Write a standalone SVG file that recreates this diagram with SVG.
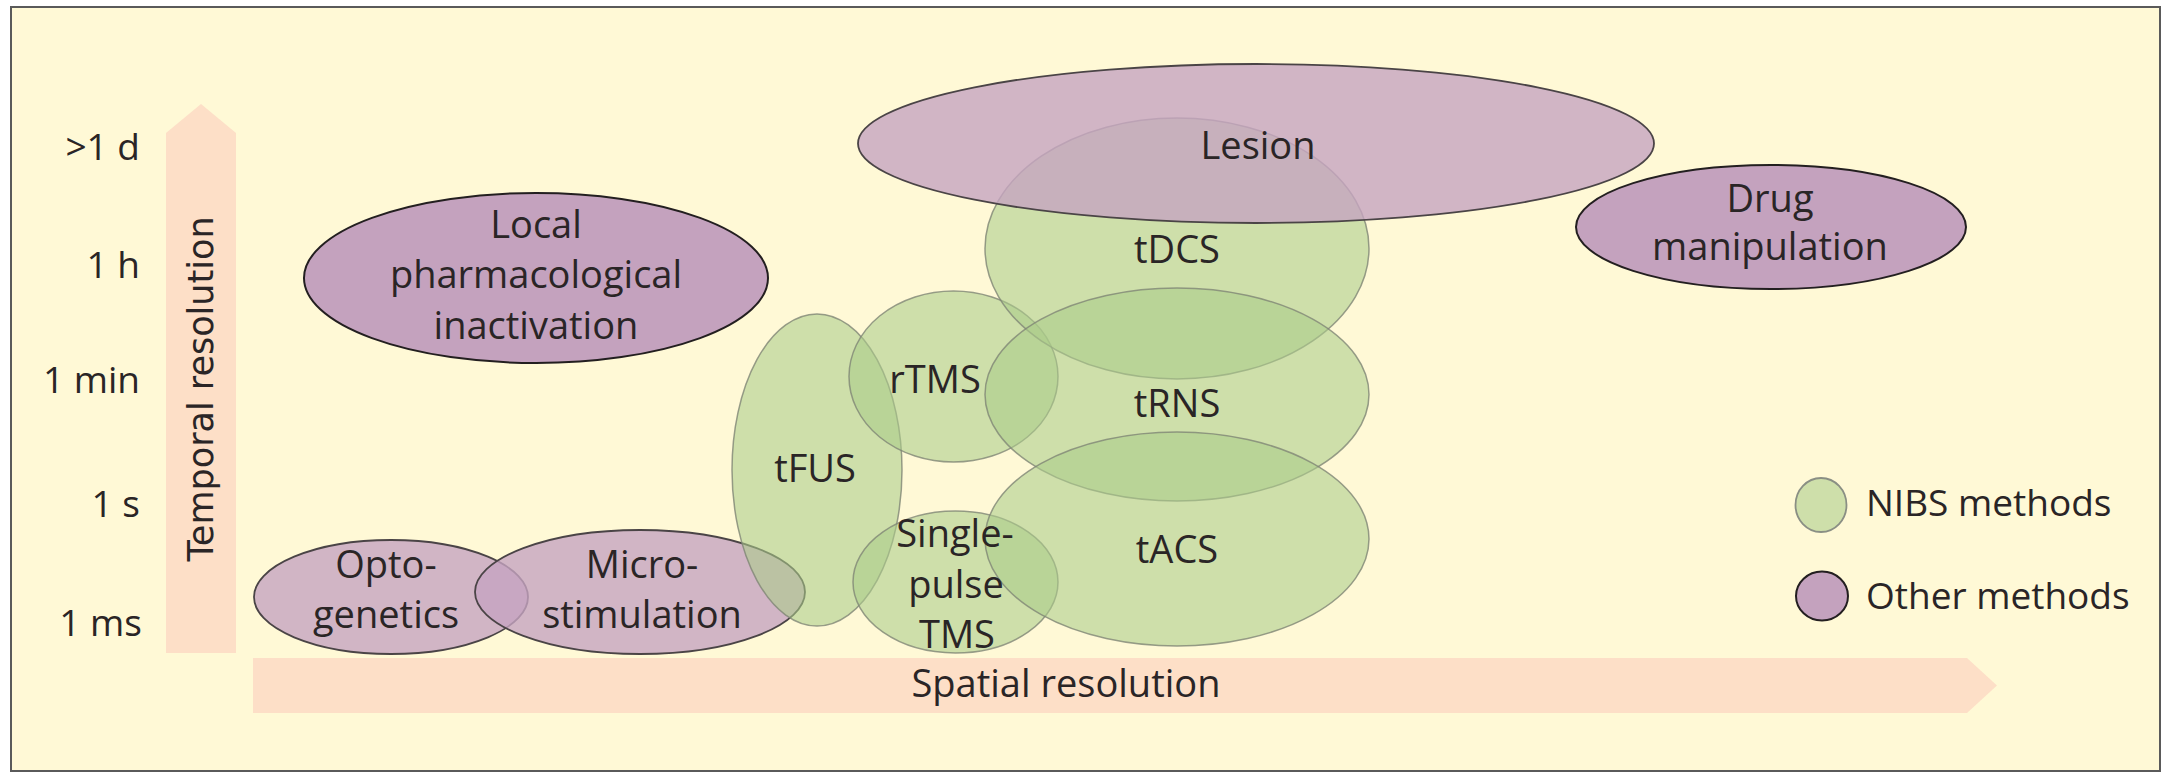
<svg xmlns="http://www.w3.org/2000/svg" width="2172" height="773" viewBox="0 0 2172 773">
  <style>
    .lbl { font-family: "Open Sans", "Liberation Sans", sans-serif; font-size: 38px; fill: #2a2526; text-anchor: middle; }
    .axl { font-family: "Open Sans", "Liberation Sans", sans-serif; font-size: 37px; fill: #2a2526; text-anchor: end; }
    .leg { font-family: "Open Sans", "Liberation Sans", sans-serif; font-size: 37px; fill: #2a2526; }
    .tax { font-family: "DejaVu Sans", "Liberation Sans", sans-serif; font-size: 35px; fill: #2a2526; text-anchor: middle; }
    .arrow { fill: #FDDFC7; }
    .green { fill: #AACB8A; fill-opacity: 0.58; stroke: #7f8676; stroke-width: 1.5; stroke-opacity: 0.8; }
    .purpleT { fill: #C5A4C1; fill-opacity: 0.8; stroke: #4a4446; stroke-width: 1.8; }
    .purpleS { fill: #C4A2BE; stroke: #231F20; stroke-width: 2; }
  </style>
  <rect x="0" y="0" width="2172" height="773" fill="#ffffff"/>
  <rect x="11" y="7" width="2149" height="764" fill="#FFF9D6" stroke="#5a5a5a" stroke-width="2"/>

  <g id="axes">
    <polygon class="arrow" points="166,653 166,133 201,104 236,133 236,653"/>
    <polygon class="arrow" points="253,658 1967,658 1997,685.5 1967,713 253,713"/>
    <text class="tax" transform="translate(213,389) rotate(-90)">Temporal resolution</text>
    <text class="lbl" x="1066" y="697">Spatial resolution</text>
    <text class="axl" x="140" y="160">&gt;1 d</text>
    <text class="axl" x="140" y="278">1 h</text>
    <text class="axl" x="140" y="393">1 min</text>
    <text class="axl" x="140" y="517">1 s</text>
    <text class="axl" x="142" y="636">1 ms</text>
  </g>

  <g id="local-pharmacological-inactivation">
    <ellipse class="purpleS" cx="536" cy="278" rx="232" ry="85"/>
  </g>
  <g id="drug-manipulation">
    <ellipse class="purpleS" cx="1771" cy="227" rx="195" ry="62"/>
  </g>
  <g id="optogenetics">
    <ellipse class="purpleT" cx="391" cy="597" rx="137" ry="57"/>
  </g>
  <g id="microstimulation">
    <ellipse class="purpleT" cx="640" cy="592" rx="165" ry="62"/>
  </g>
  <g id="tFUS">
    <ellipse class="green" cx="817" cy="470" rx="85" ry="156"/>
  </g>
  <g id="rTMS">
    <ellipse class="green" cx="953.5" cy="376.5" rx="104.5" ry="85.5"/>
  </g>
  <g id="single-pulse-TMS">
    <ellipse class="green" cx="955.5" cy="582" rx="102.5" ry="71"/>
  </g>
  <g id="tDCS">
    <ellipse class="green" cx="1177" cy="248.5" rx="192" ry="130.5"/>
  </g>
  <g id="tRNS">
    <ellipse class="green" cx="1177" cy="394.5" rx="192" ry="106.5"/>
  </g>
  <g id="tACS">
    <ellipse class="green" cx="1177" cy="539" rx="192" ry="107"/>
  </g>
  <g id="lesion">
    <ellipse class="purpleT" cx="1256" cy="143.5" rx="398" ry="79.5"/>
  </g>

  <g id="labels">
    <text class="lbl" x="536" y="238">Local</text>
    <text class="lbl" x="536" y="288">pharmacological</text>
    <text class="lbl" x="536" y="339">inactivation</text>
    <text class="lbl" x="1770" y="212">Drug</text>
    <text class="lbl" x="1770" y="260">manipulation</text>
    <text class="lbl" x="386" y="578">Opto-</text>
    <text class="lbl" x="386" y="628">genetics</text>
    <text class="lbl" x="642" y="578">Micro-</text>
    <text class="lbl" x="642" y="628">stimulation</text>
    <text class="lbl" x="815" y="482">tFUS</text>
    <text class="lbl" x="935" y="393">rTMS</text>
    <text class="lbl" x="955" y="547">Single-</text>
    <text class="lbl" x="956" y="598">pulse</text>
    <text class="lbl" x="957" y="648">TMS</text>
    <text class="lbl" x="1177" y="263">tDCS</text>
    <text class="lbl" x="1177" y="417">tRNS</text>
    <text class="lbl" x="1177" y="563">tACS</text>
    <text class="lbl" x="1258" y="159">Lesion</text>
  </g>

  <g id="legend">
    <g id="legend-nibs">
      <ellipse cx="1821" cy="505" rx="25.5" ry="27" fill="#CEDFAA" stroke="#8a8f84" stroke-width="1.8"/>
      <text class="leg" x="1866" y="516">NIBS methods</text>
    </g>
    <g id="legend-other">
      <ellipse cx="1822" cy="596" rx="26" ry="24.5" fill="#C4A2BE" stroke="#231F20" stroke-width="2"/>
      <text class="leg" x="1866" y="609">Other methods</text>
    </g>
  </g>
  <g id="connectors"/>
</svg>
